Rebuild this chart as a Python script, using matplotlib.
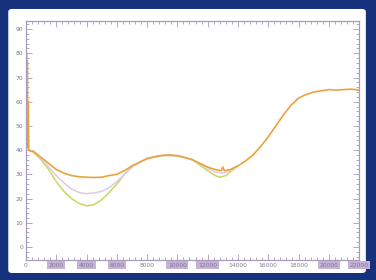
import matplotlib
matplotlib.use("Agg")
import matplotlib.pyplot as plt
from matplotlib.patches import FancyBboxPatch
from matplotlib.ticker import MultipleLocator

# datos
x_naranja = [0, 30, 60, 90, 120, 150, 180, 300, 500, 1000, 1500, 2000, 2500, 3000, 3500, 4000, 4500,
             5000, 5500, 6000, 6500, 7000, 7500, 8000, 8500, 9000, 9500, 10000, 10500,
             11000, 11500, 12000, 12500, 12900, 13000, 13100, 13500, 14000, 14500, 15000,
             15500, 16000, 16500, 17000, 17500, 18000, 18500, 19000, 19500, 20000, 20500,
             21000, 21500, 22000]
y_naranja = [40, 80, 41, 77, 42, 60, 40, 39.5, 39.5, 37, 34.5, 32, 30.5, 29.5, 29, 28.8, 28.7,
             28.8, 29.5, 30, 31.5, 33.5, 35, 36.5, 37.3, 37.8, 38, 37.7, 37,
             36, 34.5, 33, 32, 31.5, 33, 31.5, 32, 33.5, 35.5, 38,
             41.5, 45.5, 50, 54.5, 58.5, 61.5, 63, 64, 64.5, 65, 64.8,
             65, 65.2, 64.8]

x_lila = [0, 300, 500, 1000, 1500, 2000, 2500, 3000, 3500, 4000, 4500, 5000, 5500, 6000,
          6500, 7000, 7500, 8000, 9000, 10000, 11000, 12000, 12500, 13000, 13500, 14000]
y_lila = [40, 40, 39.5, 36.5, 33, 29.5, 26.5, 24, 22.5, 22, 22.3, 23, 24.5, 27,
          30, 33, 35, 36.5, 37.8, 37.7, 36, 32.5, 31, 30.5, 31.5, 33.5]

x_verde = [0, 300, 500, 1000, 1500, 2000, 2500, 3000, 3500, 4000, 4500, 5000, 5500, 6000,
           6500, 7000, 7500, 8000, 9000, 10000, 11000, 12000, 12500, 12800, 13200, 13600, 14000]
y_verde = [40, 40, 39, 36, 32, 27, 23, 20, 18, 17, 17.5, 19.5, 22.5, 26,
           30, 33, 35, 36.5, 37.8, 37.7, 36, 31.5, 29.5, 28.8, 29.5, 31.5, 33.5]

etiquetas_x = ['0', '2000', '4000', '6000', '8000', '10000', '12000', '14000',
               '16000', '18000', '20000', '22000']
resaltadas = ['2000', '4000', '6000', '10000', '12000', '20000', '22000']

fig = plt.figure(figsize=(3.76, 2.8), dpi=100)
fig.patch.set_facecolor('#17327c')
panel = FancyBboxPatch((0.022, 0.025), 0.951, 0.943, boxstyle='round,pad=0,rounding_size=0.01',
                       transform=fig.transFigure, facecolor='white', edgecolor='none', zorder=-5)
fig.patches.append(panel)

ax = fig.add_axes([0.069, 0.0714, 0.886, 0.854])
ax.set_facecolor('white')
ax.plot(x_verde, y_verde, color='#c9d95c', lw=1.1)
ax.plot(x_lila, y_lila, color='#dccbe6', lw=1.1)
ax.plot(x_naranja, y_naranja, color='#eaa23f', lw=1.2)

ax.set_xlim(0, 22000)
ax.set_ylim(-5.4, 93.4)
ax.xaxis.set_major_locator(MultipleLocator(2000))
ax.xaxis.set_minor_locator(MultipleLocator(400))
ax.yaxis.set_major_locator(MultipleLocator(10))
ax.yaxis.set_minor_locator(MultipleLocator(2))
ax.set_yticks(range(0, 91, 10))
ax.set_xticks(range(0, 22001, 2000))
ax.set_xticklabels(etiquetas_x)

ax.tick_params(which='both', direction='in', top=True, right=True, color='#a89cbc', width=0.6)
ax.tick_params(which='major', length=4, labelsize=4.3, labelcolor='#7f7890', pad=2)
ax.tick_params(which='minor', length=2)
for s in ax.spines.values():
    s.set_color('#a89cbc')
    s.set_linewidth(0.9)

for lbl in ax.get_xticklabels():
    if lbl.get_text() in resaltadas:
        lbl.set_bbox(dict(facecolor='#c6b2d6', edgecolor='none', pad=1.2))

fig.savefig('out.png', dpi=100, facecolor=fig.get_facecolor())
